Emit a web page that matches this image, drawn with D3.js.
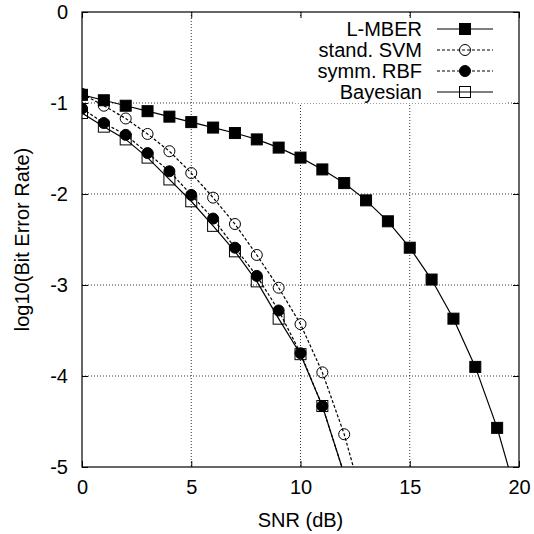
<!DOCTYPE html>
<html>
<head>
<meta charset="utf-8">
<script src="https://cdn.jsdelivr.net/npm/d3@7"></script>
<style>
  body { margin: 0; background: #fff; }
  text { font-family: "Liberation Sans", Arial, sans-serif; fill: #000; }
</style>
</head>
<body>
<div id="chartDiv"></div>
<script>
// values (log10 of BER against SNR in dB)
let snr = [0, 1, 2, 3, 4, 5, 6, 7, 8, 9, 10, 11, 12, 13, 14, 15, 16, 17, 18, 19, 20];
let lmber = [-0.91, -0.97, -1.03, -1.09, -1.15, -1.21, -1.27, -1.33, -1.40, -1.49, -1.60,
             -1.73, -1.88, -2.07, -2.30, -2.59, -2.94, -3.37, -3.90, -4.57, -5.41];
let standSvm = [-0.90, -1.03, -1.17, -1.34, -1.53, -1.77, -2.04, -2.33, -2.67, -3.03, -3.43,
                -3.96, -4.64, -5.50];
let symmRbf = [-1.06, -1.22, -1.35, -1.55, -1.75, -2.01, -2.27, -2.59, -2.90, -3.28, -3.75,
               -4.33, -5.08];
let bayesian = [-1.11, -1.26, -1.40, -1.60, -1.84, -2.08, -2.35, -2.63, -2.96, -3.37, -3.76,
                -4.33, -5.08];
let seriesNames = ['L-MBER', 'stand. SVM', 'symm. RBF', 'Bayesian'];
let xTicks = [0, 5, 10, 15, 20];
let yTicks = [0, -1, -2, -3, -4, -5];

let margin = {top: 12, right: 15, bottom: 67, left: 82};
let width = 534 - margin.left - margin.right;
let height = 534 - margin.top - margin.bottom;

let svg = d3.select('#chartDiv')
    .append('svg')
    .attr('width', 534)
    .attr('height', 534)
    .append('g')
    .attr('transform', 'translate(' + margin.left + ',' + margin.top + ')');

let xScale = d3.scaleLinear().domain([0, 20]).range([0, width]);
let yScale = d3.scaleLinear().domain([-5, 0]).range([height, 0]);

// plain hyphen minus like the original, no decimals
let tickFmt = function(d) {return String(d)};

svg.append('clipPath').attr('id', 'plotClip')
    .append('rect').attr('width', width).attr('height', height);

// dotted grid
let grid = svg.append('g');
grid.selectAll('line.gx')
    .data(xTicks.filter(function(d) {return d > 0 && d < 20}))
    .enter().append('line')
    .attr('x1', function(d) {return xScale(d)}).attr('x2', function(d) {return xScale(d)})
    .attr('y1', 0).attr('y2', height);
grid.selectAll('line.gy')
    .data(yTicks.filter(function(d) {return d < 0 && d > -5}))
    .enter().append('line')
    .attr('y1', function(d) {return yScale(d)}).attr('y2', function(d) {return yScale(d)})
    .attr('x1', 0).attr('x2', width);
grid.selectAll('line')
    .attr('stroke', '#000').attr('stroke-width', 0.8).attr('stroke-dasharray', '1,2');

// legend background erases the grid behind it
let legendG = svg.append('g');
legendG.append('rect')
    .attr('x', 212).attr('y', 5).attr('width', 213).attr('height', 86)
    .attr('fill', '#fff');

// axes: ticks point inward and are mirrored on the top and right
svg.append('g')
    .attr('transform', 'translate(0,' + height + ')')
    .call(d3.axisBottom(xScale).tickValues(xTicks).tickFormat(tickFmt)
        .tickSizeInner(-6).tickSizeOuter(0).tickPadding(13))
    .call(function(g) {g.select('.domain').remove()});
svg.append('g')
    .call(d3.axisTop(xScale).tickValues(xTicks).tickSizeInner(-6).tickSizeOuter(0).tickFormat(''))
    .call(function(g) {g.select('.domain').remove()});
svg.append('g')
    .call(d3.axisLeft(yScale).tickValues(yTicks).tickFormat(tickFmt)
        .tickSizeInner(-6).tickSizeOuter(0).tickPadding(14))
    .call(function(g) {g.select('.domain').remove()});
svg.append('g')
    .attr('transform', 'translate(' + width + ',0)')
    .call(d3.axisRight(yScale).tickValues(yTicks).tickSizeInner(-6).tickSizeOuter(0).tickFormat(''))
    .call(function(g) {g.select('.domain').remove()});
svg.selectAll('.tick line').attr('stroke', '#000').attr('stroke-width', 1);
svg.selectAll('.tick text')
    .style('font-family', '"Liberation Sans", Arial, sans-serif')
    .style('font-size', '20px');

svg.append('rect')
    .attr('width', width).attr('height', height)
    .attr('fill', 'none').attr('stroke', '#000').attr('stroke-width', 1.2);

// axis titles
svg.append('text')
    .attr('x', width / 2).attr('y', height + 60)
    .attr('text-anchor', 'middle')
    .style('font-size', '20px')
    .text('SNR (dB)');
svg.append('text')
    .attr('transform', 'translate(-53,' + (height / 2) + ') rotate(-90)')
    .attr('text-anchor', 'middle')
    .style('font-size', '20px')
    .text('log10(Bit Error Rate)');

let series = [
    {name: seriesNames[0], values: lmber, dash: null, marker: 'fsquare'},
    {name: seriesNames[1], values: standSvm, dash: '3,2', marker: 'ocircle'},
    {name: seriesNames[2], values: symmRbf, dash: '3,2', marker: 'fcircle'},
    {name: seriesNames[3], values: bayesian, dash: null, marker: 'osquare'}
];

let line = d3.line()
    .x(function(d, i) {return xScale(snr[i])})
    .y(function(d) {return yScale(d)});

function drawMarker(g, kind, x, y) {
    if (kind === 'fsquare' || kind === 'osquare') {
        g.append('rect')
            .attr('x', x - 5.5).attr('y', y - 5.5).attr('width', 11).attr('height', 11)
            .attr('fill', kind === 'fsquare' ? '#000' : 'none')
            .attr('stroke', '#000').attr('stroke-width', 1);
    } else {
        g.append('circle')
            .attr('cx', x).attr('cy', y).attr('r', 5.5)
            .attr('fill', kind === 'fcircle' ? '#000' : 'none')
            .attr('stroke', '#000').attr('stroke-width', 1);
    }
}

let plot = svg.append('g').attr('clip-path', 'url(#plotClip)');
series.forEach(function(s) {
    let g = plot.append('g');
    g.append('path')
        .datum(s.values)
        .attr('d', line)
        .attr('fill', 'none')
        .attr('stroke', '#000')
        .attr('stroke-width', 1.2)
        .attr('stroke-dasharray', s.dash);
    s.values.forEach(function(v, i) {
        if (v >= -5) drawMarker(g, s.marker, xScale(snr[i]), yScale(v));
    });
});

// legend
series.forEach(function(s, i) {
    let y = 17 + i * 21;
    legendG.append('text')
        .attr('x', 340).attr('y', y).attr('dy', '0.35em')
        .attr('text-anchor', 'end')
        .style('font-size', '20px')
        .text(s.name);
    legendG.append('line')
        .attr('x1', 355).attr('x2', 411).attr('y1', y).attr('y2', y)
        .attr('stroke', '#000').attr('stroke-width', 1.2)
        .attr('stroke-dasharray', s.dash);
    drawMarker(legendG, s.marker, 383, y);
});
</script>
</body>
</html>
